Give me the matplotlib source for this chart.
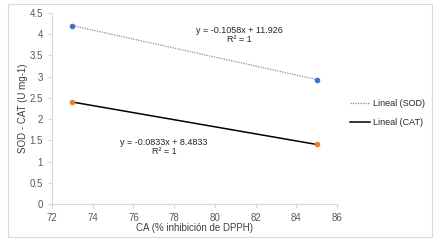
import matplotlib
matplotlib.use("Agg")
import matplotlib.pyplot as plt
from matplotlib.patches import Rectangle
import numpy as np

x_vals = [73, 85]
sod = [4.2026, 2.933]
cat = [2.4024, 1.4028]
eq_sod = ["y = -0.1058x + 11.926", "R² = 1"]
eq_cat = ["y = -0.0833x + 8.4833", "R² = 1"]
xticks = [72, 74, 76, 78, 80, 82, 84, 86]
yticks = [0, 0.5, 1, 1.5, 2, 2.5, 3, 3.5, 4, 4.5]

plt.rcParams['font.family'] = ['Liberation Sans', 'DejaVu Sans']
fig = plt.figure(figsize=(4.4, 2.45), dpi=100)
fig.patch.set_facecolor('white')
fig.add_artist(Rectangle((8/440, 1-237/245), 424/440, 233/245, transform=fig.transFigure,
                         fill=False, edgecolor='#D9D9D9', lw=0.8))
ax = fig.add_axes([52/440, 1-204/245, (337-52)/440, (204-13)/245])

# trendlines
def fit(xs, ys):
    m, b = np.polyfit(xs, ys, 1)
    return m, b
m1, b1 = fit(x_vals, sod)
m2, b2 = fit(x_vals, cat)
xx = np.array(x_vals, dtype=float)
l1, = ax.plot(xx, m1*xx+b1, color='#7F8FA6', lw=0.9, ls=(0, (1, 1)), label='Lineal (SOD)')
l2, = ax.plot(xx, m2*xx+b2, color='black', lw=1.1, label='Lineal (CAT)')
ax.plot(x_vals, sod, 'o', color='#4472C4', ms=3, zorder=3)
ax.plot(x_vals, cat, 'o', color='#ED7D31', ms=3, zorder=3)

ax.set_xlim(72, 86)
ax.set_ylim(0, 4.5)
ax.set_xticks(xticks)
ax.set_yticks(yticks)
ax.set_xticklabels([str(t) for t in xticks])
ax.set_yticklabels([f"{t:g}" for t in yticks])
for s in ['top', 'right']:
    ax.spines[s].set_visible(False)
for s in ['left', 'bottom']:
    ax.spines[s].set_color('#D9D9D9')
    ax.spines[s].set_linewidth(0.8)
ax.tick_params(axis='both', labelsize=7, colors='#595959', length=3, width=0.8, color='#D9D9D9')
ax.set_xlabel('CA (% inhibición de DPPH)', fontsize=7, color='#404040')
ax.set_ylabel('SOD - CAT (U mg-1)', fontsize=7, color='#404040')
ax.yaxis.set_label_coords(-0.085, 0.5)
ax.xaxis.set_label_coords(0.5, -0.1)

ax.text(81.2, 3.98, eq_sod[0] + "\n" + eq_sod[1], fontsize=6.5, ha='center', va='center',
        color='#262626', linespacing=1.1)
ax.text(77.5, 1.34, eq_cat[0] + "\n" + eq_cat[1], fontsize=6.5, ha='center', va='center',
        color='#262626', linespacing=1.1)

fig.legend(handles=[l1, l2], loc='center left', bbox_to_anchor=(350/440, 1-113/245),
           frameon=False, fontsize=6.5, handlelength=2.2, handletextpad=0.3,
           labelspacing=1.1, borderaxespad=0, borderpad=0, labelcolor='#262626')

fig.savefig('out.png', dpi=100, facecolor='white')
